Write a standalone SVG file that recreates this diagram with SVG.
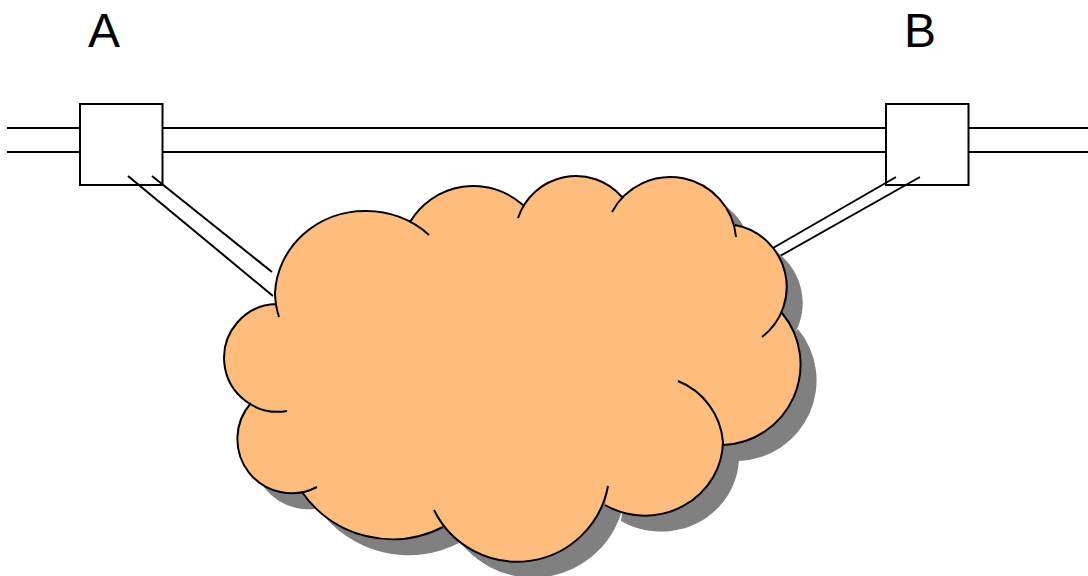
<svg xmlns="http://www.w3.org/2000/svg" width="1088" height="576" viewBox="0 0 1088 576">
<style>
.l{fill:none;stroke:#000;stroke-width:2}
.b{fill:#fff;stroke:#000;stroke-width:2}
.t{font-family:"Liberation Sans",Arial,sans-serif;font-size:48px;fill:#000}
.o{fill:none;stroke:#000;stroke-width:2;stroke-linecap:butt}
</style>
<defs>
<path id="cloudFill" d="M279 317A90 86 0 0 1 275 293A90 86 0 0 1 365 211A90 86 0 0 1 429 235L410 222A74 74 0 0 1 523 205L518 218A61 61 0 0 1 622 197L612 212A66 66 0 0 1 736 237L735 225A63 63 0 0 1 762 337L782 313A80.6 80.6 0 0 1 723 445L678 381A72 72 0 0 1 723 442A78 75 0 0 1 605 505L608 486A92.500 92.500 0 0 1 434 510L443 527A110 110 0 0 1 302 492L317 487A54.300 54.300 0 0 1 251 403L287 411A53.900 53.900 0 1 1 276 304Z"/>
</defs>
<g id="connectors">
<path class="l" d="M7 128H1088M7 152H1088"/>
</g>
<g id="node-a">
<rect class="b" x="80" y="104" width="82.500" height="81"/>
<text class="t" x="88" y="47">A</text>
</g>
<g id="node-b">
<rect class="b" x="886" y="104" width="82.500" height="81"/>
<text class="t" x="904" y="47">B</text>
</g>
<g id="links">
<path class="l" d="M152 176L272 272M128 176L273 296M896 177L773 248M920 177L780 256"/>
</g>
<g id="cloud">
<use href="#cloudFill" x="16" y="16" fill="#808080"/>
<use href="#cloudFill" fill="#ffbd7d"/>
<path class="o" d="M279 317A90 86 0 0 1 275 293A90 86 0 0 1 365 211A90 86 0 0 1 429 235M410 222A74 74 0 0 1 523 205M518 218A61 61 0 0 1 622 197M612 212A66 66 0 0 1 736 237M735 225A63 63 0 0 1 762 337M782 313A80.6 80.6 0 0 1 723 445M678 381A72 72 0 0 1 723 442A78 75 0 0 1 605 505M608 486A92.500 92.500 0 0 1 434 510M443 527A110 110 0 0 1 302 492M317 487A54.300 54.300 0 0 1 251 403M287 411A53.900 53.900 0 1 1 276 304"/>
</g>
</svg>
